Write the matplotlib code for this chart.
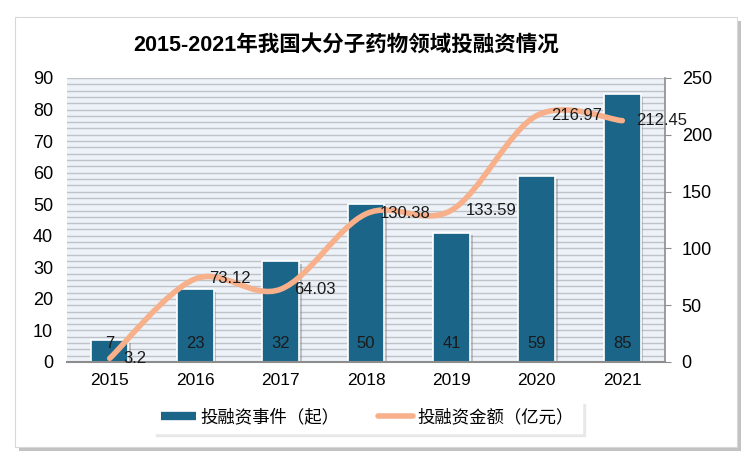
import numpy as np
import matplotlib.pyplot as plt
from matplotlib.path import Path
from matplotlib.patches import PathPatch, Rectangle
from matplotlib.lines import Line2D
from matplotlib import patheffects as pe

plt.rcParams['font.family'] = ['Liberation Sans', 'Noto Sans CJK SC', 'DejaVu Sans']

# --- Daten ---
jahre = ['2015', '2016', '2017', '2018', '2019', '2020', '2021']
ereignisse = [7, 23, 32, 50, 41, 59, 85]                               # 投融资事件（起）
betrag = [3.2, 73.12, 64.03, 130.38, 133.59, 216.97, 212.45]          # 投融资金额（亿元）

titel = '2015-2021年我国大分子药物领域投融资情况'
label_bar = '投融资事件（起）'
label_line = '投融资金额（亿元）'

BAR_COLOR = '#1b6688'
LINE_COLOR = '#f7b08a'

fig = plt.figure(figsize=(7.5, 4.62), dpi=100)
fig.patch.set_facecolor('white')

# Rahmen mit Schatten
frame = Rectangle((15 / 750, 1 - 447 / 462), 722 / 750, 430 / 462, transform=fig.transFigure,
                  facecolor='white', edgecolor='#d8d8d8', lw=0.8, zorder=-5,
                  path_effects=[pe.SimplePatchShadow(offset=(3, -3), shadow_rgbFace='#9a9a9a', alpha=0.6),
                                pe.Normal()])
fig.patches.append(frame)

ax = fig.add_axes([67 / 750, 1 - 362 / 462, 598 / 750, 284 / 462])
ax.set_facecolor('#ecf2f8')
ax2 = ax.twinx()

x = np.arange(len(jahre))

# Streifen im Hintergrund
for yy in np.arange(2, 91, 2):
    ax.axhline(yy, color='#bfc3c8', lw=1.0, zorder=0.5)

bars = ax.bar(x, ereignisse, width=0.43, color=BAR_COLOR, edgecolor='white', lw=1.2, zorder=2,
              path_effects=[pe.SimplePatchShadow(offset=(2, -2), shadow_rgbFace='#777777', alpha=0.4),
                            pe.Normal()])
for xi, v in zip(x, ereignisse):
    ax.annotate(str(v), (xi, 0), xytext=(0, 18), textcoords='offset pixels', ha='center', va='center',
                fontsize=12, color='#1a1a1a', zorder=4)

ax.set_xlim(-0.5, len(jahre) - 0.5)
ax.set_ylim(0, 90)
ax.set_yticks(range(0, 91, 10))
ax.set_xticks(x)
ax.set_xticklabels(jahre, fontsize=12.5)
ax.tick_params(axis='x', length=0, pad=8)
ax.tick_params(axis='y', length=0, labelsize=13, pad=10)
for s in ['top', 'left', 'right']:
    ax.spines[s].set_visible(False)
ax.spines['bottom'].set_color('#8c8c8c')
ax.spines['bottom'].set_linewidth(1.5)
ax.spines['bottom'].set_zorder(3)

# Glatte Linie (Bezier-Kurve durch die Datenpunkte)
pts = np.column_stack([x, betrag]).astype(float)
n = len(pts)
verts = [pts[0]]
codes = [Path.MOVETO]
for i in range(n - 1):
    p_prev = pts[max(i - 1, 0)]
    p0 = pts[i]
    p1 = pts[i + 1]
    p_next = pts[min(i + 2, n - 1)]
    c1 = p0 + (p1 - p_prev) / 6
    c2 = p1 - (p_next - p0) / 6
    verts += [c1, c2, p1]
    codes += [Path.CURVE4] * 3
kurve = PathPatch(Path(verts, codes), facecolor='none', edgecolor=LINE_COLOR, lw=4,
                  capstyle='round', zorder=3)
ax2.add_patch(kurve)
for xi, v in zip(x, betrag):
    ax2.annotate(f'{v:g}', (xi, v), xytext=(14, 0), textcoords='offset pixels', ha='left', va='center',
                 fontsize=12, color='#1a1a1a', zorder=5)

ax2.set_ylim(0, 250)
ax2.set_yticks(range(0, 251, 50))
ax2.tick_params(axis='y', labelsize=13, length=4, color='#8c8c8c', pad=8)
for s in ['top', 'left', 'bottom']:
    ax2.spines[s].set_visible(False)
ax2.spines['right'].set_color('#8c8c8c')
ax2.spines['right'].set_linewidth(1.2)

fig.text(0.462, 1 - 45 / 462, titel, ha='center', va='center', fontsize=15.5, fontweight='bold',
         family=['Liberation Sans', 'Noto Sans CJK SC'])

handles = [Line2D([], [], color=BAR_COLOR, lw=6, solid_capstyle='butt'),
           Line2D([], [], color=LINE_COLOR, lw=4, solid_capstyle='round')]
leg = fig.legend(handles, [label_bar, label_line], loc='center', bbox_to_anchor=(0.49, 1 - 417 / 462),
                 ncol=2, fontsize=12.5, frameon=True, fancybox=False, shadow={'color': '#e4e4e4', 'alpha': 0.8},
                 handlelength=2.0, columnspacing=2.2, borderpad=0.45, borderaxespad=0,
                 handletextpad=0.3)
leg.get_frame().set_edgecolor('white')
leg.get_frame().set_facecolor('white')

fig.savefig('out.png', dpi=100)
